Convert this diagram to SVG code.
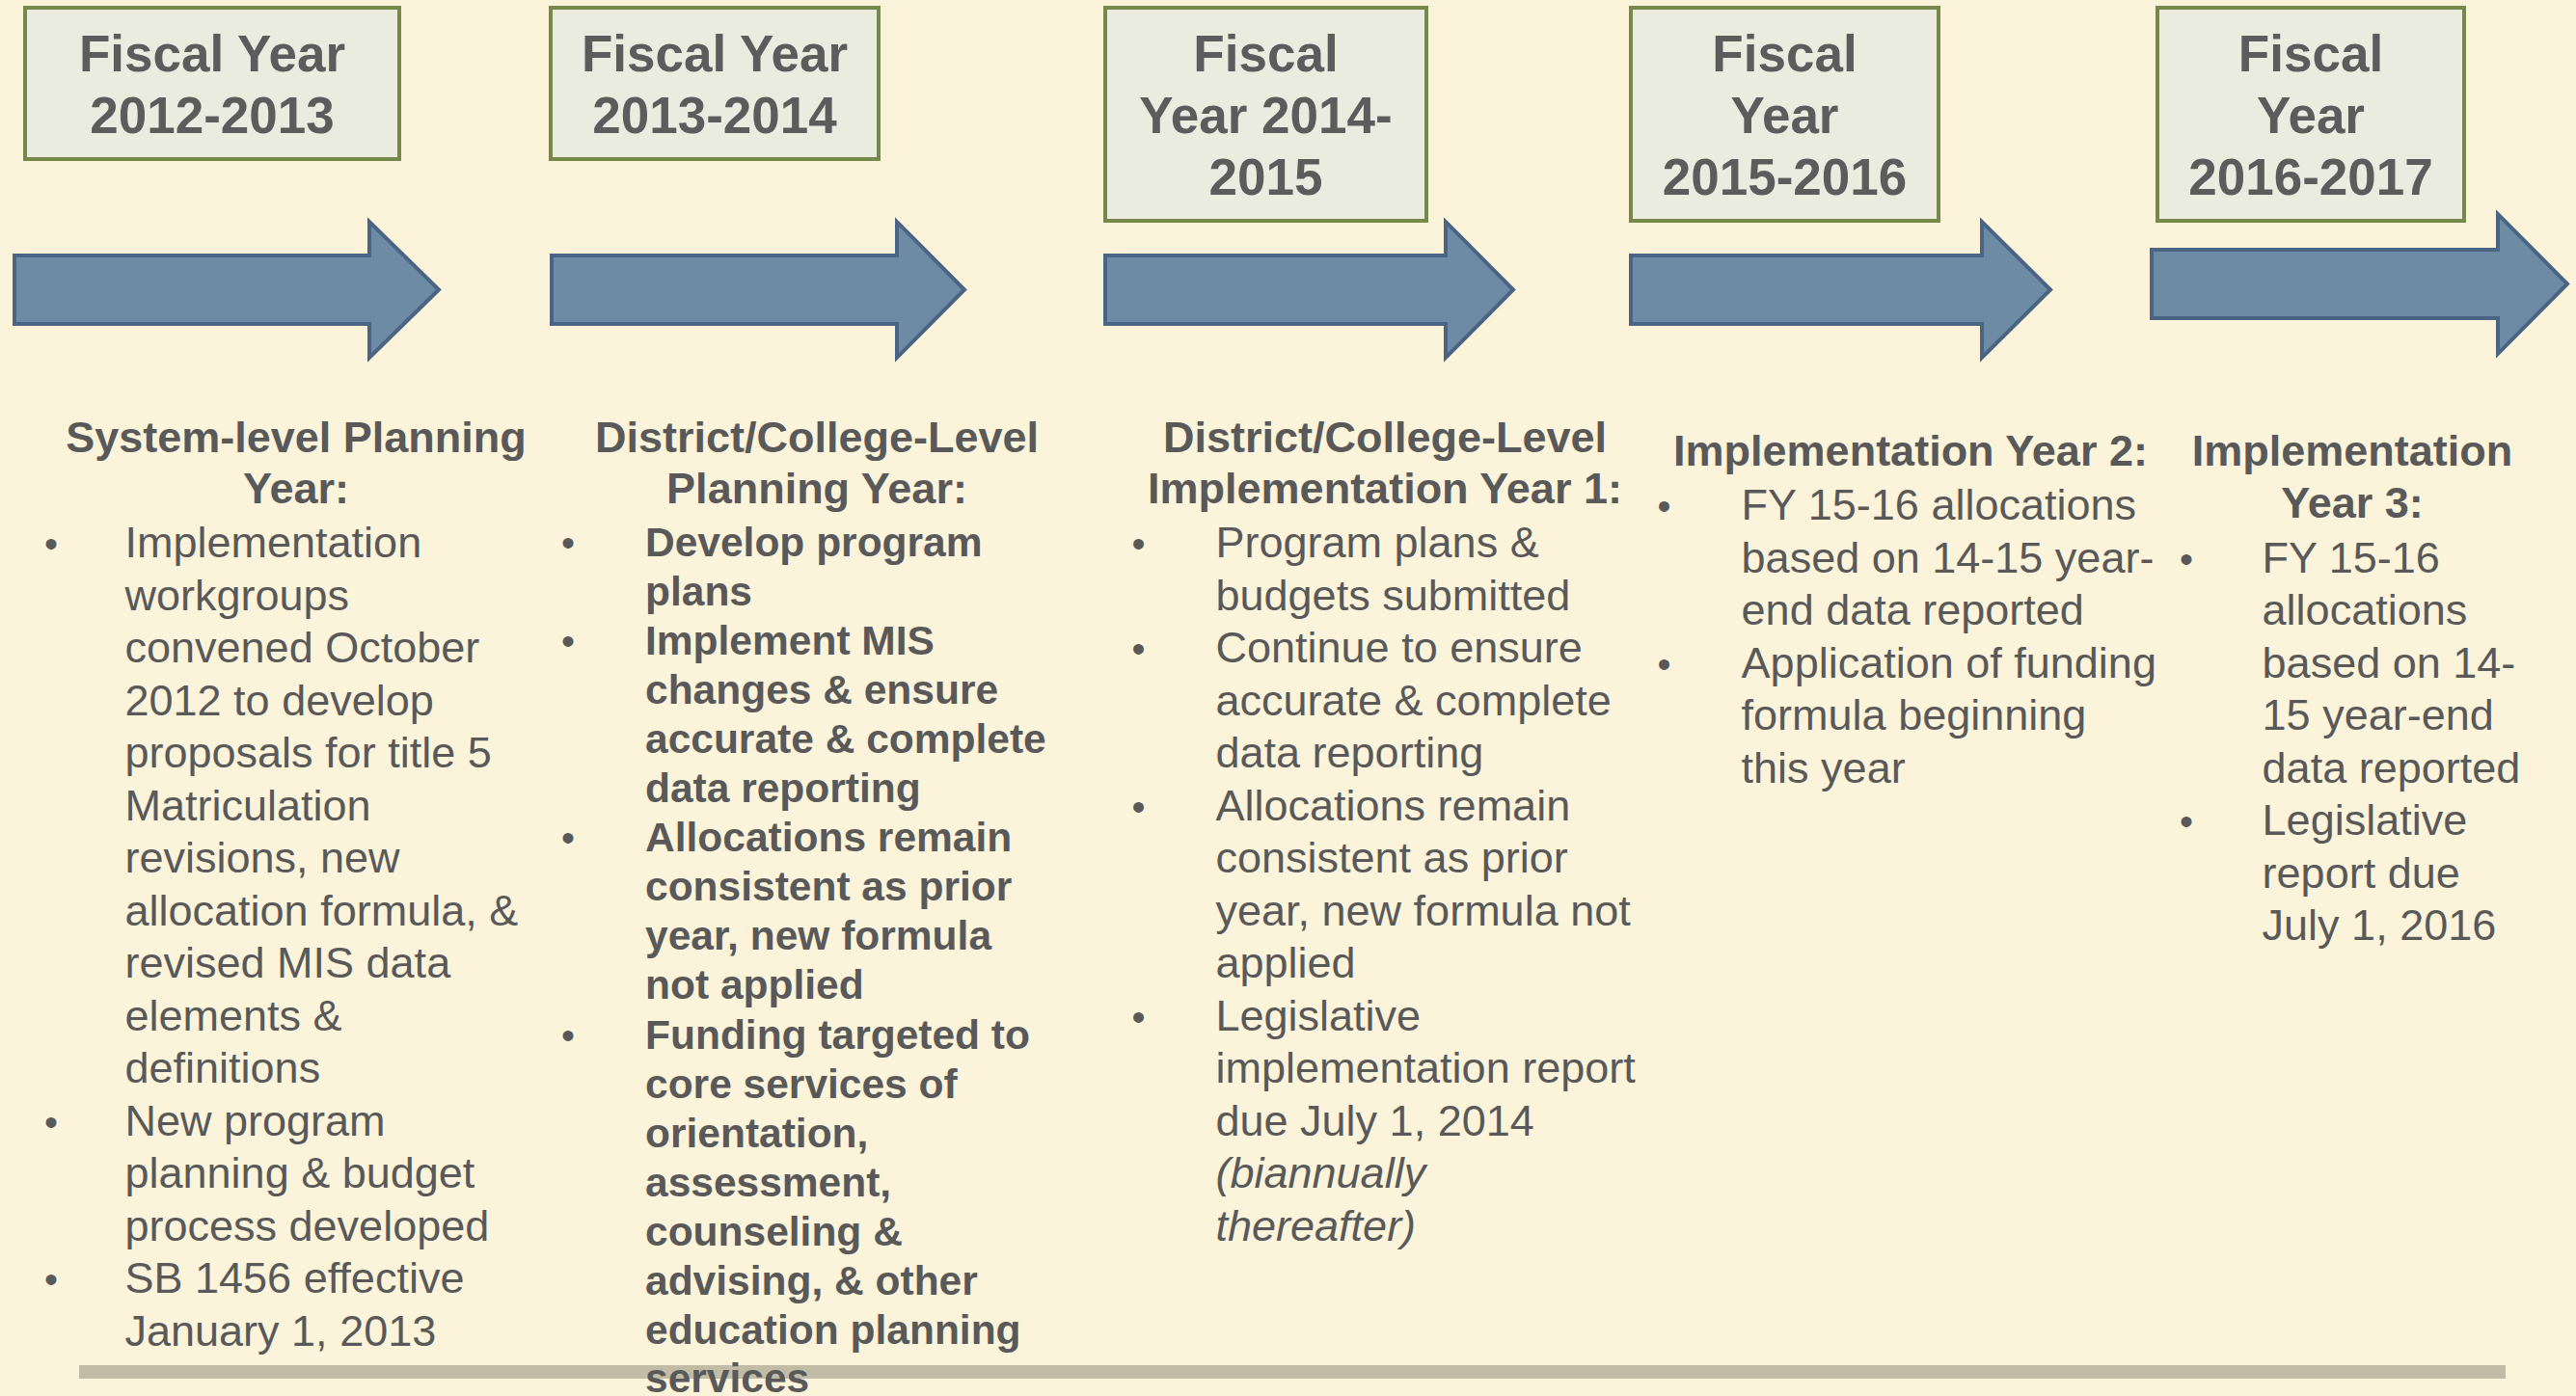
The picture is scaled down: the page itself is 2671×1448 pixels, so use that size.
<svg xmlns="http://www.w3.org/2000/svg" width="2671" height="1448" viewBox="0 0 2671 1448">
<style>
.bg{fill:#FCF4DA}
.box{fill:#EAECE0;stroke:#76884A;stroke-width:4}
.arrow{fill:#6E8BA5;stroke:#4A6483;stroke-width:4;stroke-linejoin:miter}
.bt{font-family:"Liberation Sans",Arial,sans-serif;font-weight:bold;font-size:53px;fill:#5C5C5C;text-anchor:middle}
.h{font-family:"Liberation Sans",Arial,sans-serif;font-weight:bold;font-size:45px;fill:#595959;text-anchor:middle}
.t{font-family:"Liberation Sans",Arial,sans-serif;font-size:45px;fill:#595959}
.tb{font-family:"Liberation Sans",Arial,sans-serif;font-weight:bold;font-size:42.5px;fill:#595959}
.bul{font-family:"Liberation Sans",Arial,sans-serif;font-size:40px;fill:#595959;text-anchor:middle}
.it{font-style:italic}
.rule{fill:#C2BCA6}
</style>
<rect class="bg" x="0" y="0" width="2671" height="1448"/>

<g id="connectors">
<polygon class="arrow" points="15,265 383,265 383,230 455,300.5 383,371 383,336 15,336"/>
<polygon class="arrow" points="572,265 930,265 930,230 1000,300.5 930,371 930,336 572,336"/>
<polygon class="arrow" points="1146,265 1499,265 1499,230 1569,300.5 1499,371 1499,336 1146,336"/>
<polygon class="arrow" points="1691,265 2055,265 2055,230 2126,300.5 2055,371 2055,336 1691,336"/>
<polygon class="arrow" points="2231,259 2590,259 2590,222 2662,294.5 2590,367 2590,330 2231,330"/>
</g>

<rect class="rule" x="82" y="1416" width="2516" height="14"/>

<g id="fy2012">
<rect class="box" x="26" y="8" width="388" height="157"/>
<text class="bt" x="220" y="74">Fiscal Year</text>
<text class="bt" x="220" y="138">2012-2013</text>
</g>
<g id="fy2013">
<rect class="box" x="571" y="8" width="340" height="157"/>
<text class="bt" x="741" y="74">Fiscal Year</text>
<text class="bt" x="741" y="138">2013-2014</text>
</g>
<g id="fy2014">
<rect class="box" x="1146" y="8" width="333" height="221"/>
<text class="bt" x="1312.5" y="74">Fiscal</text>
<text class="bt" x="1312.5" y="138">Year 2014-</text>
<text class="bt" x="1312.5" y="202">2015</text>
</g>
<g id="fy2015">
<rect class="box" x="1691" y="8" width="319" height="221"/>
<text class="bt" x="1850.5" y="74">Fiscal</text>
<text class="bt" x="1850.5" y="138">Year</text>
<text class="bt" x="1850.5" y="202">2015-2016</text>
</g>
<g id="fy2016">
<rect class="box" x="2237" y="8" width="318" height="221"/>
<text class="bt" x="2396" y="74">Fiscal</text>
<text class="bt" x="2396" y="138">Year</text>
<text class="bt" x="2396" y="202">2016-2017</text>
</g>

<g id="col1">
<text class="h" x="307" y="469">System-level Planning</text>
<text class="h" x="307" y="522">Year:</text>
<text class="bul" x="53" y="578">•</text>
<text class="bul" x="53" y="1177.5">•</text>
<text class="bul" x="53" y="1341">•</text>
<text class="t" x="129.5" y="578">Implementation</text>
<text class="t" x="129.5" y="632.5">workgroups</text>
<text class="t" x="129.5" y="687">convened October</text>
<text class="t" x="129.5" y="741.5">2012 to develop</text>
<text class="t" x="129.5" y="796">proposals for title 5</text>
<text class="t" x="129.5" y="850.5">Matriculation</text>
<text class="t" x="129.5" y="905">revisions, new</text>
<text class="t" x="129.5" y="959.5">allocation formula, &amp;</text>
<text class="t" x="129.5" y="1014">revised MIS data</text>
<text class="t" x="129.5" y="1068.5">elements &amp;</text>
<text class="t" x="129.5" y="1123">definitions</text>
<text class="t" x="129.5" y="1177.5">New program</text>
<text class="t" x="129.5" y="1232">planning &amp; budget</text>
<text class="t" x="129.5" y="1286.5">process developed</text>
<text class="t" x="129.5" y="1341">SB 1456 effective</text>
<text class="t" x="129.5" y="1395.5">January 1, 2013</text>
</g>

<g id="col2">
<text class="h" x="847" y="469">District/College-Level</text>
<text class="h" x="847" y="522">Planning Year:</text>
<text class="bul" x="589" y="576.5">•</text>
<text class="bul" x="589" y="678.7">•</text>
<text class="bul" x="589" y="883.1">•</text>
<text class="bul" x="589" y="1087.5">•</text>
<text class="tb" x="669" y="576.5">Develop program</text>
<text class="tb" x="669" y="627.6">plans</text>
<text class="tb" x="669" y="678.7">Implement MIS</text>
<text class="tb" x="669" y="729.8">changes &amp; ensure</text>
<text class="tb" x="669" y="780.9">accurate &amp; complete</text>
<text class="tb" x="669" y="832">data reporting</text>
<text class="tb" x="669" y="883.1">Allocations remain</text>
<text class="tb" x="669" y="934.2">consistent as prior</text>
<text class="tb" x="669" y="985.3">year, new formula</text>
<text class="tb" x="669" y="1036.4">not applied</text>
<text class="tb" x="669" y="1087.5">Funding targeted to</text>
<text class="tb" x="669" y="1138.6">core services of</text>
<text class="tb" x="669" y="1189.7">orientation,</text>
<text class="tb" x="669" y="1240.8">assessment,</text>
<text class="tb" x="669" y="1291.9">counseling &amp;</text>
<text class="tb" x="669" y="1343">advising, &amp; other</text>
<text class="tb" x="669" y="1394.1">education planning</text>
<text class="tb" x="669" y="1444">services</text>
</g>

<g id="col3">
<text class="h" x="1436" y="469">District/College-Level</text>
<text class="h" x="1436" y="522">Implementation Year 1:</text>
<text class="bul" x="1180.5" y="578">•</text>
<text class="bul" x="1180.5" y="687">•</text>
<text class="bul" x="1180.5" y="850.5">•</text>
<text class="bul" x="1180.5" y="1068.5">•</text>
<text class="t" x="1260.5" y="578">Program plans &amp;</text>
<text class="t" x="1260.5" y="632.5">budgets submitted</text>
<text class="t" x="1260.5" y="687">Continue to ensure</text>
<text class="t" x="1260.5" y="741.5">accurate &amp; complete</text>
<text class="t" x="1260.5" y="796">data reporting</text>
<text class="t" x="1260.5" y="850.5">Allocations remain</text>
<text class="t" x="1260.5" y="905">consistent as prior</text>
<text class="t" x="1260.5" y="959.5">year, new formula not</text>
<text class="t" x="1260.5" y="1014">applied</text>
<text class="t" x="1260.5" y="1068.5">Legislative</text>
<text class="t" x="1260.5" y="1123">implementation report</text>
<text class="t" x="1260.5" y="1177.5">due July 1, 2014</text>
<text class="t it" x="1260.5" y="1232">(biannually</text>
<text class="t it" x="1260.5" y="1286.5">thereafter)</text>
</g>

<g id="col4">
<text class="h" x="1981" y="483">Implementation Year 2:</text>
<text class="bul" x="1725.5" y="539">•</text>
<text class="bul" x="1725.5" y="702.5">•</text>
<text class="t" x="1805.6" y="539">FY 15-16 allocations</text>
<text class="t" x="1805.6" y="593.5">based on 14-15 year-</text>
<text class="t" x="1805.6" y="648">end data reported</text>
<text class="t" x="1805.6" y="702.5">Application of funding</text>
<text class="t" x="1805.6" y="757">formula beginning</text>
<text class="t" x="1805.6" y="811.5">this year</text>
</g>

<g id="col5">
<text class="h" x="2439" y="483">Implementation</text>
<text class="h" x="2439" y="537">Year 3:</text>
<text class="bul" x="2267" y="593.5">•</text>
<text class="bul" x="2267" y="866">•</text>
<text class="t" x="2345.6" y="593.5">FY 15-16</text>
<text class="t" x="2345.6" y="648">allocations</text>
<text class="t" x="2345.6" y="702.5">based on 14-</text>
<text class="t" x="2345.6" y="757">15 year-end</text>
<text class="t" x="2345.6" y="811.5">data reported</text>
<text class="t" x="2345.6" y="866">Legislative</text>
<text class="t" x="2345.6" y="920.5">report due</text>
<text class="t" x="2345.6" y="975">July 1, 2016</text>
</g>
</svg>
